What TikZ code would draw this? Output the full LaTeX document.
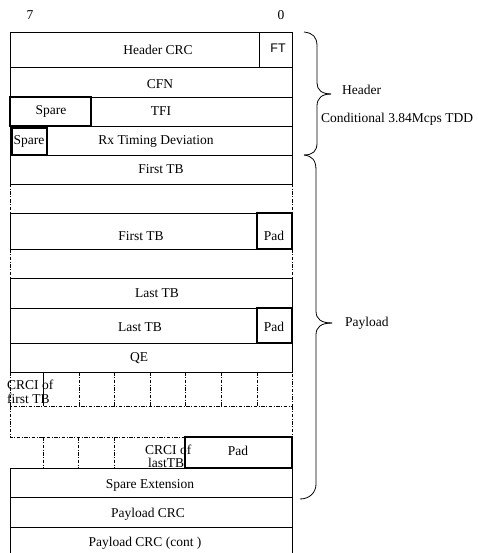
\documentclass[tikz,border=0pt]{standalone}
\usepackage{fontspec}
\setmainfont{Liberation Serif}
\newfontfamily\sansfnt{Liberation Sans}
\begin{document}
\begin{tikzpicture}[x=1pt,y=-1pt,
  cell/.style={draw, line width=0.8pt},
  thickcell/.style={draw, line width=1.5pt},
  dsh/.style={line width=0.7pt, dash pattern=on 3.5pt off 1.5pt on 1pt off 1.5pt},
  lbl/.style={font=\fontsize{13.5}{14}\selectfont, inner sep=0pt},
  brc/.style={line width=0.8pt}]
\useasboundingbox (0,0) rectangle (478,553);
% bit numbers
\node[lbl] (b7) at (30,15) {7};
\node[lbl] (b0) at (281,15) {0};
% header rows
\draw[cell] (10,32) rectangle (292,67);
\draw[cell] (259,32) -- (259,67);
\draw[cell] (10,67) rectangle (292,97);
\draw[cell] (10,97) rectangle (292,126);
\draw[thickcell] (10,97) rectangle (91,126);
\draw[cell] (10,126) rectangle (292,155);
\draw[thickcell] (12,128) rectangle (47,155);
% first TB
\draw[cell] (10,155) rectangle (292,184);
\draw[dsh] (10,184) -- (10,213);
\draw[dsh] (292,184) -- (292,213);
\draw[cell] (10,213) rectangle (292,249);
\draw[thickcell] (257,213) rectangle (292,249);
\draw[dsh] (10,249) -- (10,278);
\draw[dsh] (292,249) -- (292,278);
% last TB
\draw[cell] (10,278) rectangle (292,308);
\draw[cell] (10,308) rectangle (292,343);
\draw[thickcell] (257,308) rectangle (292,343);
% QE
\draw[cell] (10,343) rectangle (292,372);
% CRCI row
\draw[dsh] (10,372) -- (10,406) -- (292,406) -- (292,372);
\foreach \xx in {79,114,150,185,221,257} \draw[dsh] (\xx,372) -- (\xx,406);
\draw[cell] (43,372) -- (43,406);
% gap
\draw[dsh] (10,406) -- (10,437) -- (185,437);
\draw[dsh] (292,406) -- (292,437);
% last CRCI row
\foreach \xx in {43,78,114} \draw[dsh] (\xx,437) -- (\xx,468);
\draw[thickcell] (185,437) rectangle (292,468);
% trailer rows
\draw[cell] (10,468) rectangle (292,497);
\draw[cell] (10,497) rectangle (292,527);
\draw[cell] (10,553) -- (10,527) -- (292,527) -- (292,553);
% texts
\node[lbl] (hcrc) at (158,50) {Header CRC};
\node[lbl,font=\sansfnt\fontsize{12.5}{14}\selectfont] (ft) at (278,48) {FT};
\node[lbl] (cfn) at (160,84) {CFN};
\node[lbl] (sp1) at (51,111) {Spare};
\node[lbl] (tfi) at (161,111) {TFI};
\node[lbl] (sp2) at (29,141) {Spare};
\node[lbl] (rx) at (156,141) {Rx Timing Deviation};
\node[lbl] (ftb1) at (161,169) {First TB};
\node[lbl] (ftb2) at (141,236) {First TB};
\node[lbl] (pad1) at (274,236) {Pad};
\node[lbl] (ltb1) at (157,293) {Last TB};
\node[lbl] (ltb2) at (140,327) {Last TB};
\node[lbl] (pad2) at (274,327) {Pad};
\node[lbl] (qe) at (139,358) {QE};
\node[lbl,anchor=west] (crf1) at (7,385) {CRCI of};
\node[lbl,anchor=west] (crf2) at (7,399) {first TB};
\node[lbl,anchor=west] (crl1) at (145,450) {CRCI of};
\node[lbl,anchor=west] (crl2) at (148,463) {lastTB};
\node[lbl] (pad3) at (238,451) {Pad};
\node[lbl] (spx) at (150,485) {Spare Extension};
\node[lbl] (pcrc) at (148,514) {Payload CRC};
\node[lbl] (pcrc2) at (145,543) {Payload CRC (cont )};
% braces
\draw[brc] (304,32) .. controls (313,33) and (317,37) .. (317,46) -- (317,83)
  .. controls (317,90) and (322,94) .. (331,94);
\draw[brc] (331,94) .. controls (322,94) and (317,98) .. (317,106) -- (317,143)
  .. controls (317,151) and (313,155) .. (304,155);
\draw[brc] (304,155) .. controls (312,156) and (316,160) .. (316,170) -- (316,311)
  .. controls (316,319) and (321,323) .. (332,323);
\draw[brc] (332,323) .. controls (321,323) and (316,327) .. (316,335) -- (316,484)
  .. controls (316,493) and (309,499) .. (300,499);
\node[lbl,anchor=west] (hdr) at (342,90) {Header};
\node[lbl,anchor=west] (cond) at (321,119) {Conditional 3.84Mcps TDD};
\node[lbl,anchor=west] (pay) at (345,323) {Payload};
\end{tikzpicture}
\end{document}
